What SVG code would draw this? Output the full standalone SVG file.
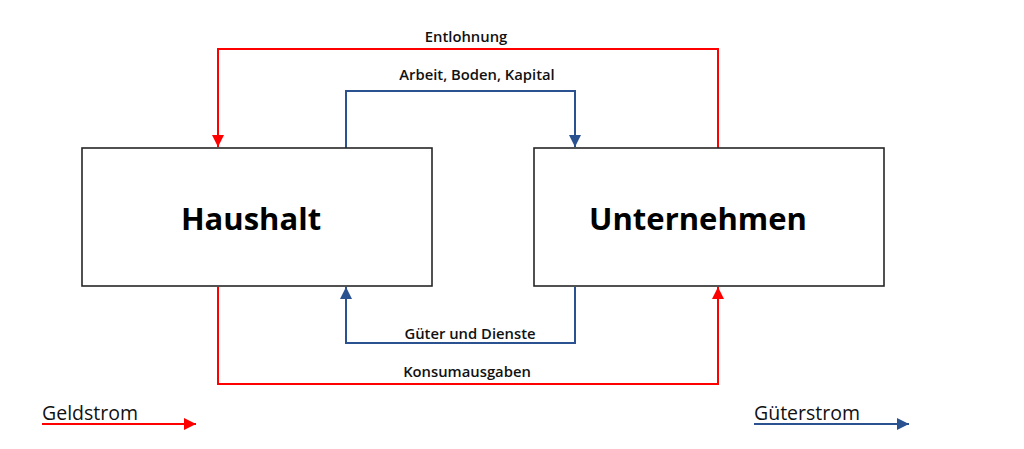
<svg xmlns="http://www.w3.org/2000/svg" width="1024" height="449" viewBox="0 0 1024 449">
<style>
.box{fill:#fff;stroke:#262626;stroke-width:1.6}
.red{fill:none;stroke:#ff0000;stroke-width:2}
.blue{fill:none;stroke:#2a5290;stroke-width:2}
.lbl{font-family:"Open Sans","Liberation Sans",sans-serif;font-size:14.8px;font-weight:600;fill:#111;text-anchor:middle}
.big{font-family:"Open Sans","Liberation Sans",sans-serif;font-size:31px;font-weight:700;fill:#000;text-anchor:middle}
.leg{font-family:"Open Sans","Liberation Sans",sans-serif;font-size:19.5px;fill:#111}
</style>
<defs>
<marker id="ar" markerWidth="12" markerHeight="12" refX="10" refY="5" orient="auto" markerUnits="userSpaceOnUse" viewBox="0 0 10 10"><path d="M0,0 L10,5 L0,10 z" fill="#ff0000"/></marker>
<marker id="ab" markerWidth="12" markerHeight="12" refX="10" refY="5" orient="auto" markerUnits="userSpaceOnUse" viewBox="0 0 10 10"><path d="M0,0 L10,5 L0,10 z" fill="#2a5290"/></marker>
</defs>
<g id="connectors">
<path class="red" d="M718,148 L718,49 L218,49 L218,147" marker-end="url(#ar)"/>
<path class="blue" d="M346,148 L346,91 L575,91 L575,147" marker-end="url(#ab)"/>
<path class="blue" d="M575,287 L575,343 L346,343 L346,287" marker-end="url(#ab)"/>
<path class="red" d="M218,287 L218,384 L718,384 L718,287" marker-end="url(#ar)"/>
<text class="lbl" x="466" y="42">Entlohnung</text>
<text class="lbl" x="477" y="80">Arbeit, Boden, Kapital</text>
<text class="lbl" x="470" y="339">Güter und Dienste</text>
<text class="lbl" x="467" y="377">Konsumausgaben</text>
</g>
<g id="haushalt">
<rect class="box" x="82" y="148" width="350" height="138"/>
<text class="big" x="251" y="230">Haushalt</text>
</g>
<g id="unternehmen">
<rect class="box" x="534" y="148" width="350" height="138"/>
<text class="big" x="698" y="230">Unternehmen</text>
</g>
<g id="legend">
<text class="leg" x="42" y="420">Geldstrom</text>
<path class="red" d="M42,424 L196,424" marker-end="url(#ar)"/>
<text class="leg" x="754" y="420">Güterstrom</text>
<path class="blue" d="M754,424 L909,424" marker-end="url(#ab)"/>
</g>
</svg>
